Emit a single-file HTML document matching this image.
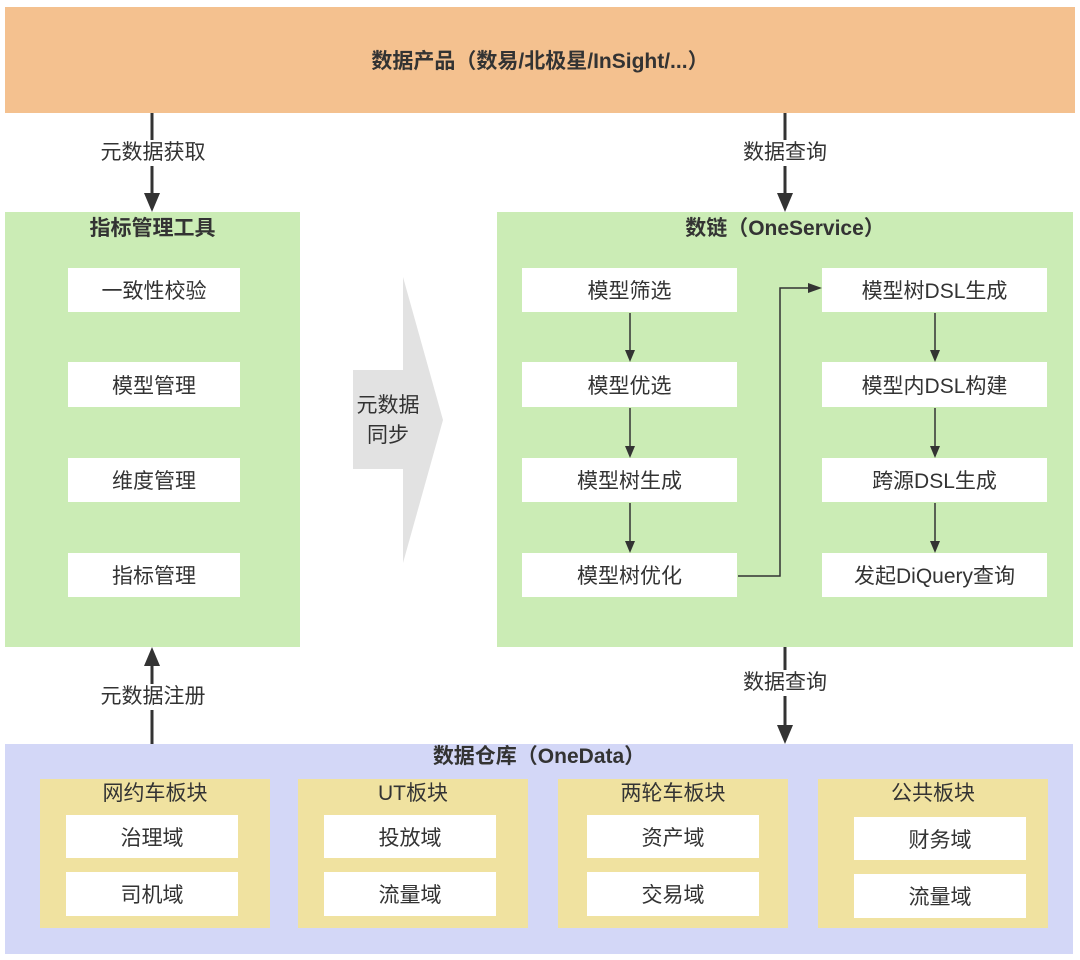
<!DOCTYPE html>
<html><head><meta charset="utf-8"><style>
body{margin:0;width:1080px;height:960px;background:#fff;position:relative;overflow:hidden;font-family:"Liberation Sans","Noto Sans CJK SC",sans-serif;color:#333}
.a{position:absolute;box-sizing:border-box;display:flex;align-items:center;justify-content:center}
.w{background:#fff;font-size:21px}
.t{position:absolute;font-size:21px;text-align:center;background:#fff;line-height:26px}
.y{background:#f0e2a0;position:absolute}
.yt{position:absolute;left:0;right:0;top:0;text-align:center;font-size:21px;line-height:30px}
</style></head><body>
<div class="a" style="left:5px;top:7px;width:1070px;height:106px;background:#f4c18f;font-weight:bold;font-size:21px">数据产品（数易/北极星/InSight/...）</div>
<div class="a" style="left:5px;top:212px;width:295px;height:435px;background:#cbecb5;align-items:flex-start;padding-top:0;font-weight:bold;font-size:21px">指标管理工具</div>
<div class="a" style="left:497px;top:212px;width:576px;height:435px;background:#cbecb5;align-items:flex-start;padding-top:0;font-weight:bold;font-size:21px">数链（OneService）</div>
<div class="a" style="left:5px;top:744px;width:1068px;height:210px;background:#d3d7f7;align-items:flex-start;padding-top:0;font-weight:bold;font-size:21px;line-height:26px">数据仓库（OneData）</div>

<div class="a w" style="left:68px;top:268px;width:172px;height:44px">一致性校验</div>
<div class="a w" style="left:68px;top:362px;width:172px;height:45px">模型管理</div>
<div class="a w" style="left:68px;top:458px;width:172px;height:44px">维度管理</div>
<div class="a w" style="left:68px;top:553px;width:172px;height:44px">指标管理</div>

<div class="a w" style="left:522px;top:268px;width:215px;height:44px">模型筛选</div>
<div class="a w" style="left:522px;top:362px;width:215px;height:45px">模型优选</div>
<div class="a w" style="left:522px;top:458px;width:215px;height:44px">模型树生成</div>
<div class="a w" style="left:522px;top:553px;width:215px;height:44px">模型树优化</div>
<div class="a w" style="left:822px;top:268px;width:225px;height:44px">模型树DSL生成</div>
<div class="a w" style="left:822px;top:362px;width:225px;height:45px">模型内DSL构建</div>
<div class="a w" style="left:822px;top:458px;width:225px;height:44px">跨源DSL生成</div>
<div class="a w" style="left:822px;top:553px;width:225px;height:44px">发起DiQuery查询</div>

<div class="y" style="left:40px;top:779px;width:230px;height:149px"><div class="yt">网约车板块</div>
<div class="a w" style="left:26px;top:36px;width:172px;height:43px">治理域</div>
<div class="a w" style="left:26px;top:93px;width:172px;height:44px">司机域</div></div>
<div class="y" style="left:298px;top:779px;width:230px;height:149px"><div class="yt">UT板块</div>
<div class="a w" style="left:26px;top:36px;width:172px;height:43px">投放域</div>
<div class="a w" style="left:26px;top:93px;width:172px;height:44px">流量域</div></div>
<div class="y" style="left:558px;top:779px;width:230px;height:149px"><div class="yt">两轮车板块</div>
<div class="a w" style="left:29px;top:36px;width:172px;height:43px">资产域</div>
<div class="a w" style="left:29px;top:93px;width:172px;height:44px">交易域</div></div>
<div class="y" style="left:818px;top:779px;width:230px;height:149px"><div class="yt">公共板块</div>
<div class="a w" style="left:36px;top:38px;width:172px;height:43px">财务域</div>
<div class="a w" style="left:36px;top:95px;width:172px;height:44px">流量域</div></div>

<svg width="1080" height="960" style="position:absolute;left:0;top:0" xmlns="http://www.w3.org/2000/svg">
<polygon points="353,370 403,370 403,277 443,420 403,563 403,469 353,469" fill="#e2e2e2"/>
<g stroke="#333" stroke-width="3" fill="none">
<line x1="152" y1="113" x2="152" y2="196"/>
<line x1="785" y1="113" x2="785" y2="196"/>
<line x1="152" y1="744" x2="152" y2="663"/>
<line x1="785" y1="647" x2="785" y2="728"/>
</g>
<g fill="#333">
<polygon points="144,193 160,193 152,212"/>
<polygon points="777,193 793,193 785,212"/>
<polygon points="144,666 160,666 152,647"/>
<polygon points="777,725 793,725 785,744"/>
</g>
<g stroke="#333" stroke-width="1.5" fill="none">
<line x1="630" y1="313" x2="630" y2="352"/><line x1="630" y1="408" x2="630" y2="448"/><line x1="630" y1="503" x2="630" y2="543"/>
<line x1="935" y1="313" x2="935" y2="352"/><line x1="935" y1="408" x2="935" y2="448"/><line x1="935" y1="503" x2="935" y2="543"/>
<polyline points="738,576 780,576 780,288 810,288"/>
</g>
<g fill="#333">
<polygon points="625,350 635,350 630,362"/><polygon points="625,446 635,446 630,458"/><polygon points="625,541 635,541 630,553"/>
<polygon points="930,350 940,350 935,362"/><polygon points="930,446 940,446 935,458"/><polygon points="930,541 940,541 935,553"/>
<polygon points="808,283 808,293 822,288"/>
</g>
</svg>
<div class="t" style="left:92px;top:140px;width:122px">元数据获取</div>
<div class="t" style="left:737px;top:140px;width:96px">数据查询</div>
<div class="t" style="left:92px;top:684px;width:122px">元数据注册</div>
<div class="t" style="left:737px;top:670px;width:96px">数据查询</div>
<div class="t" style="left:348px;top:391px;width:80px;background:none;line-height:30px">元数据<br>同步</div>
</body></html>
